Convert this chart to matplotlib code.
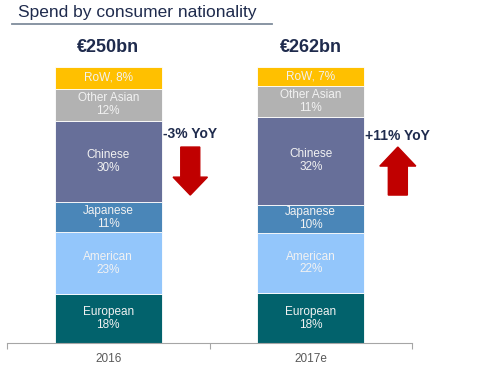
import matplotlib
matplotlib.use("Agg")
import matplotlib.pyplot as plt
from matplotlib.patches import FancyArrow

plt.rcParams['font.family'] = ['Liberation Sans', 'DejaVu Sans']

years = ["2016", "2017e"]
totals = ["€250bn", "€262bn"]
segments = ["European", "American", "Japanese", "Chinese", "Other Asian", "RoW"]
values_2016 = [18, 23, 11, 30, 12, 8]
values_2017 = [18, 22, 10, 32, 11, 7]
yoy = ["-3% YoY", "+11% YoY"]
colors = ["#02626C", "#93C6FB", "#4A86B8", "#676F99", "#B2B2B2", "#FFC000"]

fig = plt.figure(figsize=(4.8, 3.75), dpi=100)
ax = fig.add_axes([7/480, 32/375, 405/480, 276/375])

series = [values_2016, values_2017]
width = 0.53
for i, vals in enumerate(series):
    s = sum(vals)
    bottom = 0
    for name, v, c in zip(segments, vals, colors):
        h = v / s * 100
        ax.bar(i, h, width=width, bottom=bottom, color=c, edgecolor="white", linewidth=0.6)
        if name == "RoW":
            lab = f"{name}, {v}%"
        else:
            lab = f"{name}\n{v}%"
        ax.text(i, bottom + h / 2, lab, ha="center", va="center", color="#F2F2F2",
                fontsize=8.5, linespacing=1.1)
        bottom += h
    ax.text(i, 107, totals[i], ha="center", va="center", fontsize=13,
            fontweight="bold", color="#1F2B4D", clip_on=False)

ax.set_xlim(-0.5, 1.5)
ax.set_ylim(0, 100)
for sp in ["top", "right", "left"]:
    ax.spines[sp].set_visible(False)
ax.spines["bottom"].set_color("#A6A6A6")
ax.spines["bottom"].set_linewidth(0.8)
ax.set_yticks([])
ax.set_xticks([-0.5, 0.5, 1.5], minor=False)
ax.set_xticklabels(["", "", ""])
ax.tick_params(axis="x", length=4, color="#A6A6A6", width=0.8)
ax.set_xticks([0, 1], minor=True)
ax.set_xticklabels(years, minor=True)
ax.tick_params(axis="x", which="minor", length=0, labelsize=8.5, labelcolor="#595959", pad=7)

# YoY annotations
ax.text(0.405, 75.7, yoy[0], ha="center", va="center", fontsize=10, fontweight="bold",
        color="#1F2B4D", clip_on=False)
ax.add_patch(FancyArrow(0.405, 71.0, 0, -17.4, width=0.094, head_width=0.17,
                        head_length=6.5, length_includes_head=True,
                        color="#C00000", clip_on=False))
ax.text(1.43, 75.0, yoy[1], ha="center", va="center", fontsize=10, fontweight="bold",
        color="#1F2B4D", clip_on=False)
ax.add_patch(FancyArrow(1.43, 53.6, 0, 17.4, width=0.094, head_width=0.178,
                        head_length=6.9, length_includes_head=True,
                        color="#C00000", clip_on=False))

# Title
fig.text(18/480, 1 - 12/375, "Spend by consumer nationality", ha="left", va="center",
         fontsize=12.5, color="#1F2B4D")
fig.add_artist(plt.Line2D([12/480, 272/480], [1 - 24/375, 1 - 24/375],
                          color="#7F8C9C", linewidth=1.3))

fig.savefig("out.png", dpi=100)
